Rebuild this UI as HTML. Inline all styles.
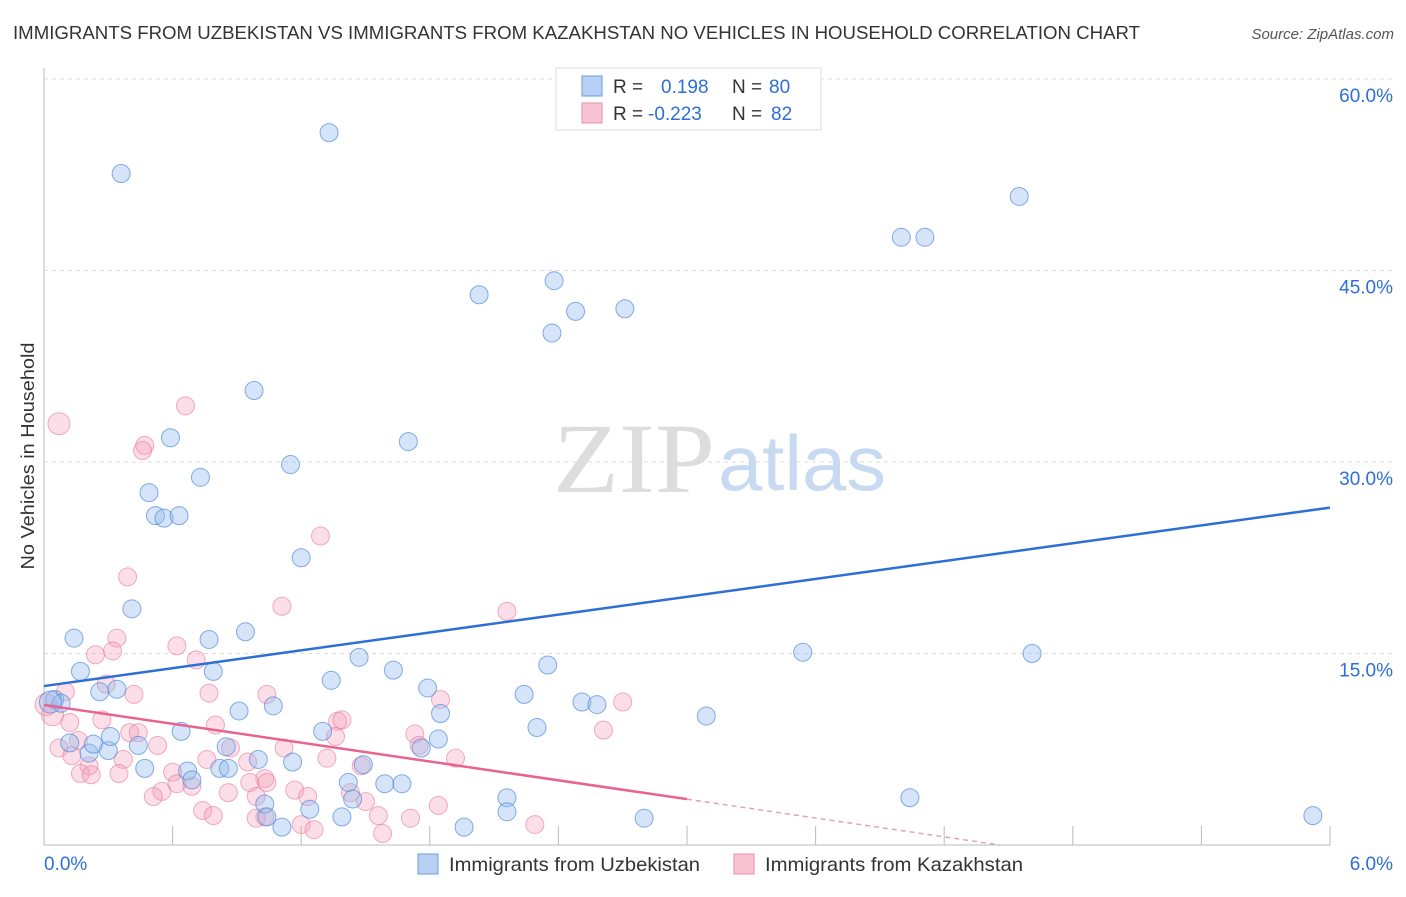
<!DOCTYPE html>
<html><head><meta charset="utf-8">
<style>
body{margin:0;background:#fff;font-family:"Liberation Sans",sans-serif;}
svg text{font-family:"Liberation Sans",sans-serif;}
</style></head>
<body>
<svg id="chart" width="1406" height="892" viewBox="0 0 1406 892" xmlns="http://www.w3.org/2000/svg">
<text x="13" y="39" font-size="18" fill="#333" textLength="1127" lengthAdjust="spacingAndGlyphs">IMMIGRANTS FROM UZBEKISTAN VS IMMIGRANTS FROM KAZAKHSTAN NO VEHICLES IN HOUSEHOLD CORRELATION CHART</text>
<text x="1394" y="39" font-size="15" fill="#555" text-anchor="end" font-style="italic">Source: ZipAtlas.com</text>
<g id="grid"></g>
<text x="553" y="492" font-size="100" fill="#ddd" style="font-family:'Liberation Serif',serif" textLength="162" lengthAdjust="spacingAndGlyphs">ZIP</text>
<text x="718" y="490" font-size="78" fill="#c8daf2" textLength="168" lengthAdjust="spacingAndGlyphs">atlas</text>
<g id="points"></g>
<g id="lines"></g>
<text transform="translate(34,456) rotate(-90)" font-size="18" fill="#333" text-anchor="middle" textLength="227" lengthAdjust="spacingAndGlyphs">No Vehicles in Household</text>
<g>
<rect x="556" y="68" width="265" height="62" fill="#fff" stroke="#ddd"/>
<rect x="582" y="76" width="20" height="20" fill="#b7d0f3" stroke="#6b9be0"/>
<rect x="582" y="103" width="20" height="20" fill="#f8c4d3" stroke="#ec8eab"/>
<text x="613" y="93" font-size="19" fill="#333">R =</text>
<text x="661" y="93" font-size="19" fill="#2d6fd6">0.198</text>
<text x="732" y="93" font-size="19" fill="#333">N =</text>
<text x="769" y="93" font-size="19" fill="#2d6fd6">80</text>
<text x="613" y="120" font-size="19" fill="#333">R =</text>
<text x="648" y="120" font-size="19" fill="#2d6fd6">-0.223</text>
<text x="732" y="120" font-size="19" fill="#333">N =</text>
<text x="771" y="120" font-size="19" fill="#2d6fd6">82</text>
</g>
<g>
<rect x="418" y="854" width="20" height="20" fill="#b7d0f3" stroke="#6b9be0"/>
<text x="449" y="871" font-size="19.5" fill="#333" textLength="251" lengthAdjust="spacingAndGlyphs">Immigrants from Uzbekistan</text>
<rect x="734" y="854" width="20" height="20" fill="#f8c4d3" stroke="#ec8eab"/>
<text x="765" y="871" font-size="19.5" fill="#333" textLength="258" lengthAdjust="spacingAndGlyphs">Immigrants from Kazakhstan</text>
</g>
</svg>
<script>
const yTicks=[15,30,45,60];
const yTickLabels=["15.0%","30.0%","45.0%","60.0%"];
const xTickVals=[0,0.6,1.2,1.8,2.4,3.0,3.6,4.2,4.8,5.4,6.0];
const xEndLabels=["0.0%","6.0%"];
const blueX=[0.36,1.33,4.55,4.00,4.11,2.03,2.38,2.48,2.71,2.37,0.98,0.59,1.70,1.15,0.73,0.49,0.52,0.56,0.63,1.20,0.41,0.14,0.77,0.94,1.47,0.17,0.79,1.63,2.35,3.54,4.61,1.34,0.26,0.34,1.79,2.24,2.51,2.58,1.07,0.91,1.85,3.09,0.05,0.08,0.64,1.30,2.30,1.84,0.12,0.21,0.30,0.23,0.31,0.44,0.85,1.00,1.16,1.76,0.47,0.82,0.86,0.67,0.69,1.49,1.42,1.59,1.67,1.44,1.03,1.24,2.16,4.04,2.16,1.39,1.04,1.11,1.96,2.80,5.92,0.03];
const blueY=[52.6,55.8,50.8,47.6,47.6,43.1,44.2,41.8,42.0,40.1,35.6,31.9,31.6,29.8,28.8,27.6,25.8,25.6,25.8,22.5,18.5,16.2,16.1,16.7,14.7,13.6,13.6,13.7,14.1,15.1,15.0,12.9,12.0,12.2,12.3,11.8,11.2,11.0,10.9,10.5,10.3,10.1,11.4,11.1,8.9,8.9,9.2,8.3,8.0,7.2,7.4,7.9,8.5,7.8,7.7,6.7,6.5,7.6,6.0,6.0,6.0,5.8,5.1,6.3,4.9,4.8,4.8,3.6,3.2,2.8,3.7,3.7,2.6,2.2,2.2,1.4,1.4,2.1,2.3,11.2];
const pinkX=[0.07,0.66,0.47,0.46,1.29,0.39,1.11,2.16,0.34,0.62,0.32,0.24,0.71,0.29,0.10,0.42,0.77,1.04,1.85,2.70,0.27,0.12,0.80,1.37,1.39,2.61,1.36,1.73,0.40,0.44,0.07,0.16,0.53,0.87,1.12,1.75,1.92,0.13,0.21,0.37,0.76,0.95,1.32,1.48,0.17,0.22,0.35,0.60,1.03,1.04,0.62,0.69,0.96,1.17,1.43,0.55,0.51,0.86,0.99,1.23,1.50,1.84,0.74,0.79,1.03,0.99,1.56,1.71,2.29,1.20,1.26,1.58,0.01,0.04];
const pinkY=[33.0,34.4,31.3,30.9,24.2,21.0,18.7,18.3,16.2,15.6,15.2,14.9,14.5,12.6,12.0,11.8,11.9,11.8,11.4,11.2,9.8,9.6,9.4,9.7,9.8,9.0,8.5,8.7,8.8,8.8,7.6,8.2,7.8,7.6,7.6,7.8,6.8,7.0,6.2,6.7,6.7,6.5,6.8,6.2,5.6,5.5,5.6,5.7,5.2,4.9,4.8,4.6,4.9,4.3,4.1,4.2,3.8,4.1,3.8,3.8,3.4,3.1,2.7,2.3,2.2,2.1,2.3,2.1,1.6,1.6,1.2,0.9,11.0,10.2];
const blueTrend=[12.45,2.33];   // intercept, slope
const pinkTrend=[10.97,-2.46];
const pinkSolidEnd=3.0;

const NS="http://www.w3.org/2000/svg";
const X0=44,X1=1330,Y0=845,PXY=191.5/15;
const sx=v=>X0+(v/6)*(X1-X0);
const sy=v=>Y0-v*PXY;
function mk(tag,attrs,parent){const e=document.createElementNS(NS,tag);for(const k in attrs)e.setAttribute(k,attrs[k]);parent.appendChild(e);return e;}
const grid=document.getElementById('grid');
const ax=mk('line',{x1:X0,y1:68,x2:X0,y2:Y0,stroke:'#bbb'},grid);


const bx=mk('line',{x1:X0,y1:Y0,x2:X1,y2:Y0,stroke:'#bbb'},grid);


yTicks.forEach((t,i)=>{
  const g=mk('line',{x1:X0,y1:sy(t),x2:1394,y2:sy(t),stroke:'#ddd','stroke-dasharray':'4 4'},grid);
  
  
  const l=mk('text',{x:1393,y:sy(t)+23,'font-size':19,fill:'#2d6fd6','text-anchor':'end'},grid);
  l.textContent=yTickLabels[i];
  
  
});
xTickVals.forEach(t=>{
  const k=mk('line',{x1:sx(t),y1:826,x2:sx(t),y2:Y0,stroke:'#bbb'},grid);
  
  
});
const xl0=mk('text',{x:X0,y:870,'font-size':19,fill:'#2d6fd6'},grid);
xl0.textContent=xEndLabels[0];


const xl1=mk('text',{x:1393,y:870,'font-size':19,fill:'#2d6fd6','text-anchor':'end'},grid);
xl1.textContent=xEndLabels[1];



const pts=document.getElementById('points');
pinkX.forEach((x,i)=>{
  const big=(i===0||i>=pinkX.length-2);
  const c=mk('circle',{cx:sx(x),cy:sy(pinkY[i]),r:big?11:9,fill:'rgba(244,160,186,0.35)',stroke:'rgba(232,120,155,0.6)','stroke-width':1},pts);
  
  
});
blueX.forEach((x,i)=>{
  const c=mk('circle',{cx:sx(x),cy:sy(blueY[i]),r:(i===blueX.length-1)?11:9,fill:'rgba(150,188,238,0.4)',stroke:'rgba(70,130,215,0.65)','stroke-width':1},pts);
  
  
});
const lines=document.getElementById('lines');
const bl=mk('line',{x1:sx(0),y1:sy(blueTrend[0]),x2:sx(6),y2:sy(blueTrend[0]+6*blueTrend[1]),stroke:'#2d6fd6','stroke-width':2.5},lines);


const pl=mk('line',{x1:sx(0),y1:sy(pinkTrend[0]),x2:sx(pinkSolidEnd),y2:sy(pinkTrend[0]+pinkSolidEnd*pinkTrend[1]),stroke:'#e8638f','stroke-width':2.5},lines);


const zeroX=-pinkTrend[0]/pinkTrend[1];
const pd=mk('line',{x1:sx(pinkSolidEnd),y1:sy(pinkTrend[0]+pinkSolidEnd*pinkTrend[1]),x2:sx(zeroX),y2:sy(0),stroke:'#e8a0b8','stroke-width':1.5,'stroke-dasharray':'5 4'},lines);


</script>
</body></html>
